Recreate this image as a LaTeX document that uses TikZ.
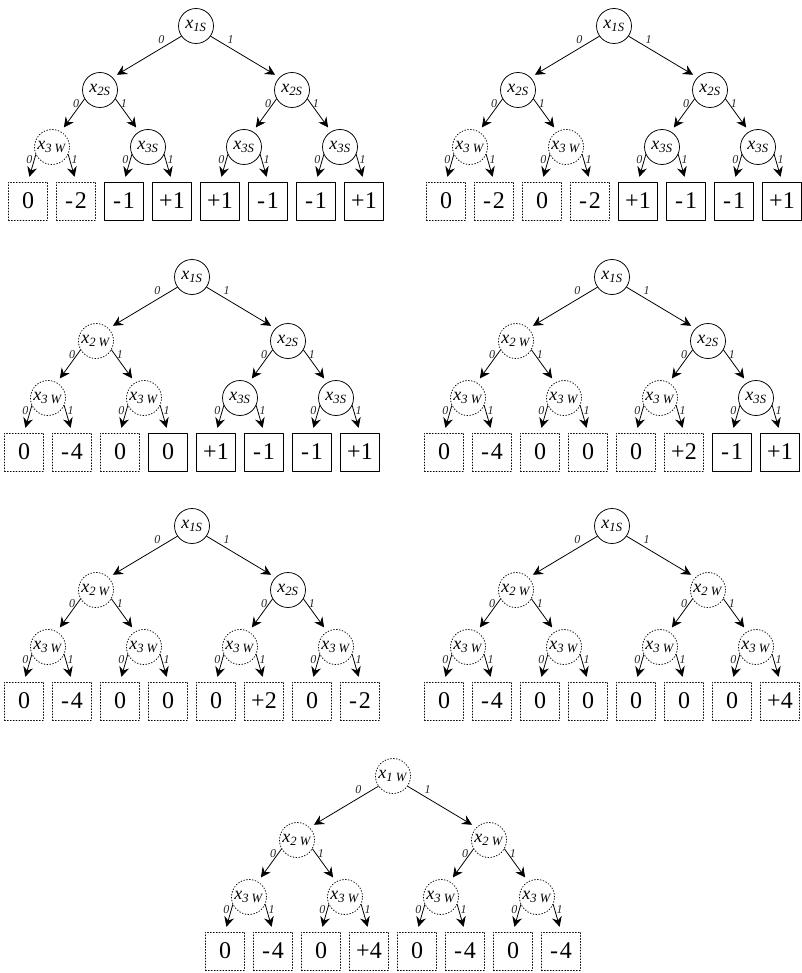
\documentclass[tikz,border=0pt]{standalone}
\usepackage{fontspec}
\setmainfont{Liberation Serif}
\usetikzlibrary{arrows.meta}
\newcommand{\xs}[1]{\textit{x}\textsubscript{\textit{#1S}}}
\newcommand{\xw}[1]{\textit{x}\textsubscript{\textit{#1}\ \textit{W}}}
\newcommand{\mn}[1]{-\kern2pt#1}
\begin{document}
\begin{tikzpicture}[x=1pt,y=-1pt,>={Stealth[length=10pt,width=10pt,inset=3.5pt]},line cap=round,line join=round,
  snode/.style={circle,draw,line width=0.75pt,minimum size=35pt,inner sep=0pt,font=\fontsize{18}{20}\selectfont},
  wnode/.style={snode,line width=0.8pt,dash pattern=on 0.9pt off 2pt},
  sleaf/.style={draw,line width=0.75pt,minimum width=39pt,minimum height=38pt,inner sep=0pt,font=\fontsize{24}{26}\selectfont},
  wleaf/.style={sleaf,line width=0.8pt,dash pattern=on 0.9pt off 2pt},
  edge/.style={->,line width=0.8pt,shorten >=5pt},
  lbl/.style={font=\itshape\fontsize{12}{13}\selectfont,text=black!85,inner sep=1.5pt}]
\useasboundingbox (0,0) rectangle (801,973);
% tree 1
\node[snode] (t1) at (196,26) {\xs1};
\node[snode] (t1-0) at (100,90) {\xs2};
\node[snode] (t1-1) at (292,90) {\xs2};
\node[wnode] (t1-00) at (52,147) {\xw3};
\node[snode] (t1-01) at (148,147) {\xs3};
\node[snode] (t1-10) at (244,147) {\xs3};
\node[snode] (t1-11) at (340,147) {\xs3};
\node[wleaf] (t1-000) at (28,201) {0};
\node[wleaf] (t1-001) at (76,201) {\mn2};
\node[sleaf] (t1-010) at (124,201) {\mn1};
\node[sleaf] (t1-011) at (172,201) {+1};
\node[sleaf] (t1-100) at (220,201) {+1};
\node[sleaf] (t1-101) at (268,201) {\mn1};
\node[sleaf] (t1-110) at (316,201) {\mn1};
\node[sleaf] (t1-111) at (364,201) {+1};
\draw[edge] (t1.215) -- node[lbl,pos=0.22,above left] {0} (t1-0.45);
\draw[edge] (t1.325) -- node[lbl,pos=0.22,above right] {1} (t1-1.135);
\draw[edge] (t1-0.210) -- node[lbl,pos=0.15,left] {0} (t1-00.60);
\draw[edge] (t1-0.330) -- node[lbl,pos=0.15,right] {1} (t1-01.120);
\draw[edge] (t1-1.210) -- node[lbl,pos=0.15,left] {0} (t1-10.60);
\draw[edge] (t1-1.330) -- node[lbl,pos=0.15,right] {1} (t1-11.120);
\draw[edge] (t1-00.205) -- node[lbl,pos=0.2,left] {0} (t1-000.north);
\draw[edge] (t1-00.335) -- node[lbl,pos=0.2,right] {1} (t1-001.north);
\draw[edge] (t1-01.205) -- node[lbl,pos=0.2,left] {0} (t1-010.north);
\draw[edge] (t1-01.335) -- node[lbl,pos=0.2,right] {1} (t1-011.north);
\draw[edge] (t1-10.205) -- node[lbl,pos=0.2,left] {0} (t1-100.north);
\draw[edge] (t1-10.335) -- node[lbl,pos=0.2,right] {1} (t1-101.north);
\draw[edge] (t1-11.205) -- node[lbl,pos=0.2,left] {0} (t1-110.north);
\draw[edge] (t1-11.335) -- node[lbl,pos=0.2,right] {1} (t1-111.north);
% tree 2
\node[snode] (t2) at (614,26) {\xs1};
\node[snode] (t2-0) at (518,90) {\xs2};
\node[snode] (t2-1) at (710,90) {\xs2};
\node[wnode] (t2-00) at (470,147) {\xw3};
\node[wnode] (t2-01) at (566,147) {\xw3};
\node[snode] (t2-10) at (662,147) {\xs3};
\node[snode] (t2-11) at (758,147) {\xs3};
\node[wleaf] (t2-000) at (446,201) {0};
\node[wleaf] (t2-001) at (494,201) {\mn2};
\node[wleaf] (t2-010) at (542,201) {0};
\node[wleaf] (t2-011) at (590,201) {\mn2};
\node[sleaf] (t2-100) at (638,201) {+1};
\node[sleaf] (t2-101) at (686,201) {\mn1};
\node[sleaf] (t2-110) at (734,201) {\mn1};
\node[sleaf] (t2-111) at (782,201) {+1};
\draw[edge] (t2.215) -- node[lbl,pos=0.22,above left] {0} (t2-0.45);
\draw[edge] (t2.325) -- node[lbl,pos=0.22,above right] {1} (t2-1.135);
\draw[edge] (t2-0.210) -- node[lbl,pos=0.15,left] {0} (t2-00.60);
\draw[edge] (t2-0.330) -- node[lbl,pos=0.15,right] {1} (t2-01.120);
\draw[edge] (t2-1.210) -- node[lbl,pos=0.15,left] {0} (t2-10.60);
\draw[edge] (t2-1.330) -- node[lbl,pos=0.15,right] {1} (t2-11.120);
\draw[edge] (t2-00.205) -- node[lbl,pos=0.2,left] {0} (t2-000.north);
\draw[edge] (t2-00.335) -- node[lbl,pos=0.2,right] {1} (t2-001.north);
\draw[edge] (t2-01.205) -- node[lbl,pos=0.2,left] {0} (t2-010.north);
\draw[edge] (t2-01.335) -- node[lbl,pos=0.2,right] {1} (t2-011.north);
\draw[edge] (t2-10.205) -- node[lbl,pos=0.2,left] {0} (t2-100.north);
\draw[edge] (t2-10.335) -- node[lbl,pos=0.2,right] {1} (t2-101.north);
\draw[edge] (t2-11.205) -- node[lbl,pos=0.2,left] {0} (t2-110.north);
\draw[edge] (t2-11.335) -- node[lbl,pos=0.2,right] {1} (t2-111.north);
% tree 3
\node[snode] (t3) at (192,277) {\xs1};
\node[wnode] (t3-0) at (96,341) {\xw2};
\node[snode] (t3-1) at (288,341) {\xs2};
\node[wnode] (t3-00) at (48,398) {\xw3};
\node[wnode] (t3-01) at (144,398) {\xw3};
\node[snode] (t3-10) at (240,398) {\xs3};
\node[snode] (t3-11) at (336,398) {\xs3};
\node[wleaf] (t3-000) at (24,452) {0};
\node[wleaf] (t3-001) at (72,452) {\mn4};
\node[wleaf] (t3-010) at (120,452) {0};
\node[sleaf] (t3-011) at (168,452) {0};
\node[sleaf] (t3-100) at (216,452) {+1};
\node[sleaf] (t3-101) at (264,452) {\mn1};
\node[sleaf] (t3-110) at (312,452) {\mn1};
\node[sleaf] (t3-111) at (360,452) {+1};
\draw[edge] (t3.215) -- node[lbl,pos=0.22,above left] {0} (t3-0.45);
\draw[edge] (t3.325) -- node[lbl,pos=0.22,above right] {1} (t3-1.135);
\draw[edge] (t3-0.210) -- node[lbl,pos=0.15,left] {0} (t3-00.60);
\draw[edge] (t3-0.330) -- node[lbl,pos=0.15,right] {1} (t3-01.120);
\draw[edge] (t3-1.210) -- node[lbl,pos=0.15,left] {0} (t3-10.60);
\draw[edge] (t3-1.330) -- node[lbl,pos=0.15,right] {1} (t3-11.120);
\draw[edge] (t3-00.205) -- node[lbl,pos=0.2,left] {0} (t3-000.north);
\draw[edge] (t3-00.335) -- node[lbl,pos=0.2,right] {1} (t3-001.north);
\draw[edge] (t3-01.205) -- node[lbl,pos=0.2,left] {0} (t3-010.north);
\draw[edge] (t3-01.335) -- node[lbl,pos=0.2,right] {1} (t3-011.north);
\draw[edge] (t3-10.205) -- node[lbl,pos=0.2,left] {0} (t3-100.north);
\draw[edge] (t3-10.335) -- node[lbl,pos=0.2,right] {1} (t3-101.north);
\draw[edge] (t3-11.205) -- node[lbl,pos=0.2,left] {0} (t3-110.north);
\draw[edge] (t3-11.335) -- node[lbl,pos=0.2,right] {1} (t3-111.north);
% tree 4
\node[snode] (t4) at (612,277) {\xs1};
\node[wnode] (t4-0) at (516,341) {\xw2};
\node[snode] (t4-1) at (708,341) {\xs2};
\node[wnode] (t4-00) at (468,398) {\xw3};
\node[wnode] (t4-01) at (564,398) {\xw3};
\node[wnode] (t4-10) at (660,398) {\xw3};
\node[snode] (t4-11) at (756,398) {\xs3};
\node[wleaf] (t4-000) at (444,452) {0};
\node[wleaf] (t4-001) at (492,452) {\mn4};
\node[wleaf] (t4-010) at (540,452) {0};
\node[wleaf] (t4-011) at (588,452) {0};
\node[wleaf] (t4-100) at (636,452) {0};
\node[wleaf] (t4-101) at (684,452) {+2};
\node[sleaf] (t4-110) at (732,452) {\mn1};
\node[sleaf] (t4-111) at (780,452) {+1};
\draw[edge] (t4.215) -- node[lbl,pos=0.22,above left] {0} (t4-0.45);
\draw[edge] (t4.325) -- node[lbl,pos=0.22,above right] {1} (t4-1.135);
\draw[edge] (t4-0.210) -- node[lbl,pos=0.15,left] {0} (t4-00.60);
\draw[edge] (t4-0.330) -- node[lbl,pos=0.15,right] {1} (t4-01.120);
\draw[edge] (t4-1.210) -- node[lbl,pos=0.15,left] {0} (t4-10.60);
\draw[edge] (t4-1.330) -- node[lbl,pos=0.15,right] {1} (t4-11.120);
\draw[edge] (t4-00.205) -- node[lbl,pos=0.2,left] {0} (t4-000.north);
\draw[edge] (t4-00.335) -- node[lbl,pos=0.2,right] {1} (t4-001.north);
\draw[edge] (t4-01.205) -- node[lbl,pos=0.2,left] {0} (t4-010.north);
\draw[edge] (t4-01.335) -- node[lbl,pos=0.2,right] {1} (t4-011.north);
\draw[edge] (t4-10.205) -- node[lbl,pos=0.2,left] {0} (t4-100.north);
\draw[edge] (t4-10.335) -- node[lbl,pos=0.2,right] {1} (t4-101.north);
\draw[edge] (t4-11.205) -- node[lbl,pos=0.2,left] {0} (t4-110.north);
\draw[edge] (t4-11.335) -- node[lbl,pos=0.2,right] {1} (t4-111.north);
% tree 5
\node[snode] (t5) at (192,526) {\xs1};
\node[wnode] (t5-0) at (96,590) {\xw2};
\node[snode] (t5-1) at (288,590) {\xs2};
\node[wnode] (t5-00) at (48,647) {\xw3};
\node[wnode] (t5-01) at (144,647) {\xw3};
\node[wnode] (t5-10) at (240,647) {\xw3};
\node[wnode] (t5-11) at (336,647) {\xw3};
\node[wleaf] (t5-000) at (24,701) {0};
\node[wleaf] (t5-001) at (72,701) {\mn4};
\node[wleaf] (t5-010) at (120,701) {0};
\node[wleaf] (t5-011) at (168,701) {0};
\node[wleaf] (t5-100) at (216,701) {0};
\node[wleaf] (t5-101) at (264,701) {+2};
\node[wleaf] (t5-110) at (312,701) {0};
\node[wleaf] (t5-111) at (360,701) {\mn2};
\draw[edge] (t5.215) -- node[lbl,pos=0.22,above left] {0} (t5-0.45);
\draw[edge] (t5.325) -- node[lbl,pos=0.22,above right] {1} (t5-1.135);
\draw[edge] (t5-0.210) -- node[lbl,pos=0.15,left] {0} (t5-00.60);
\draw[edge] (t5-0.330) -- node[lbl,pos=0.15,right] {1} (t5-01.120);
\draw[edge] (t5-1.210) -- node[lbl,pos=0.15,left] {0} (t5-10.60);
\draw[edge] (t5-1.330) -- node[lbl,pos=0.15,right] {1} (t5-11.120);
\draw[edge] (t5-00.205) -- node[lbl,pos=0.2,left] {0} (t5-000.north);
\draw[edge] (t5-00.335) -- node[lbl,pos=0.2,right] {1} (t5-001.north);
\draw[edge] (t5-01.205) -- node[lbl,pos=0.2,left] {0} (t5-010.north);
\draw[edge] (t5-01.335) -- node[lbl,pos=0.2,right] {1} (t5-011.north);
\draw[edge] (t5-10.205) -- node[lbl,pos=0.2,left] {0} (t5-100.north);
\draw[edge] (t5-10.335) -- node[lbl,pos=0.2,right] {1} (t5-101.north);
\draw[edge] (t5-11.205) -- node[lbl,pos=0.2,left] {0} (t5-110.north);
\draw[edge] (t5-11.335) -- node[lbl,pos=0.2,right] {1} (t5-111.north);
% tree 6
\node[snode] (t6) at (612,526) {\xs1};
\node[wnode] (t6-0) at (516,590) {\xw2};
\node[wnode] (t6-1) at (708,590) {\xw2};
\node[wnode] (t6-00) at (468,647) {\xw3};
\node[wnode] (t6-01) at (564,647) {\xw3};
\node[wnode] (t6-10) at (660,647) {\xw3};
\node[wnode] (t6-11) at (756,647) {\xw3};
\node[wleaf] (t6-000) at (444,701) {0};
\node[wleaf] (t6-001) at (492,701) {\mn4};
\node[wleaf] (t6-010) at (540,701) {0};
\node[wleaf] (t6-011) at (588,701) {0};
\node[wleaf] (t6-100) at (636,701) {0};
\node[wleaf] (t6-101) at (684,701) {0};
\node[wleaf] (t6-110) at (732,701) {0};
\node[wleaf] (t6-111) at (780,701) {+4};
\draw[edge] (t6.215) -- node[lbl,pos=0.22,above left] {0} (t6-0.45);
\draw[edge] (t6.325) -- node[lbl,pos=0.22,above right] {1} (t6-1.135);
\draw[edge] (t6-0.210) -- node[lbl,pos=0.15,left] {0} (t6-00.60);
\draw[edge] (t6-0.330) -- node[lbl,pos=0.15,right] {1} (t6-01.120);
\draw[edge] (t6-1.210) -- node[lbl,pos=0.15,left] {0} (t6-10.60);
\draw[edge] (t6-1.330) -- node[lbl,pos=0.15,right] {1} (t6-11.120);
\draw[edge] (t6-00.205) -- node[lbl,pos=0.2,left] {0} (t6-000.north);
\draw[edge] (t6-00.335) -- node[lbl,pos=0.2,right] {1} (t6-001.north);
\draw[edge] (t6-01.205) -- node[lbl,pos=0.2,left] {0} (t6-010.north);
\draw[edge] (t6-01.335) -- node[lbl,pos=0.2,right] {1} (t6-011.north);
\draw[edge] (t6-10.205) -- node[lbl,pos=0.2,left] {0} (t6-100.north);
\draw[edge] (t6-10.335) -- node[lbl,pos=0.2,right] {1} (t6-101.north);
\draw[edge] (t6-11.205) -- node[lbl,pos=0.2,left] {0} (t6-110.north);
\draw[edge] (t6-11.335) -- node[lbl,pos=0.2,right] {1} (t6-111.north);
% tree 7
\node[wnode] (t7) at (393,776) {\xw1};
\node[wnode] (t7-0) at (297,840) {\xw2};
\node[wnode] (t7-1) at (489,840) {\xw2};
\node[wnode] (t7-00) at (249,897) {\xw3};
\node[wnode] (t7-01) at (345,897) {\xw3};
\node[wnode] (t7-10) at (441,897) {\xw3};
\node[wnode] (t7-11) at (537,897) {\xw3};
\node[wleaf] (t7-000) at (225,951) {0};
\node[wleaf] (t7-001) at (273,951) {\mn4};
\node[wleaf] (t7-010) at (321,951) {0};
\node[wleaf] (t7-011) at (369,951) {+4};
\node[wleaf] (t7-100) at (417,951) {0};
\node[wleaf] (t7-101) at (465,951) {\mn4};
\node[wleaf] (t7-110) at (513,951) {0};
\node[wleaf] (t7-111) at (561,951) {\mn4};
\draw[edge] (t7.215) -- node[lbl,pos=0.22,above left] {0} (t7-0.45);
\draw[edge] (t7.325) -- node[lbl,pos=0.22,above right] {1} (t7-1.135);
\draw[edge] (t7-0.210) -- node[lbl,pos=0.15,left] {0} (t7-00.60);
\draw[edge] (t7-0.330) -- node[lbl,pos=0.15,right] {1} (t7-01.120);
\draw[edge] (t7-1.210) -- node[lbl,pos=0.15,left] {0} (t7-10.60);
\draw[edge] (t7-1.330) -- node[lbl,pos=0.15,right] {1} (t7-11.120);
\draw[edge] (t7-00.205) -- node[lbl,pos=0.2,left] {0} (t7-000.north);
\draw[edge] (t7-00.335) -- node[lbl,pos=0.2,right] {1} (t7-001.north);
\draw[edge] (t7-01.205) -- node[lbl,pos=0.2,left] {0} (t7-010.north);
\draw[edge] (t7-01.335) -- node[lbl,pos=0.2,right] {1} (t7-011.north);
\draw[edge] (t7-10.205) -- node[lbl,pos=0.2,left] {0} (t7-100.north);
\draw[edge] (t7-10.335) -- node[lbl,pos=0.2,right] {1} (t7-101.north);
\draw[edge] (t7-11.205) -- node[lbl,pos=0.2,left] {0} (t7-110.north);
\draw[edge] (t7-11.335) -- node[lbl,pos=0.2,right] {1} (t7-111.north);
\end{tikzpicture}
\end{document}
